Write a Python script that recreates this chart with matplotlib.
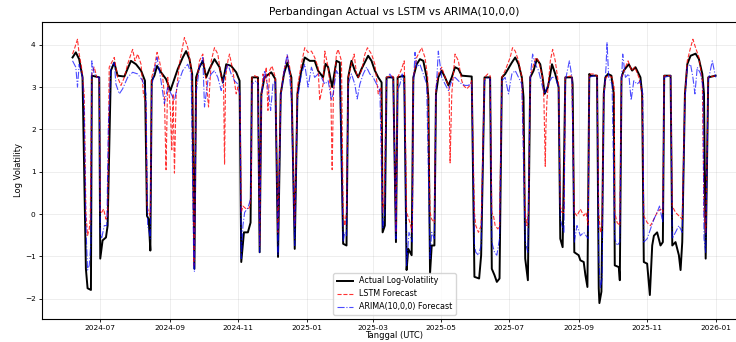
import numpy as np
import pandas as pd
import matplotlib
matplotlib.use("Agg")
import matplotlib.pyplot as plt
import matplotlib.dates as mdates

# hari sejak 2024-07-01 dan nilai log-volatility
tanggal_awal = pd.Timestamp("2024-07-01")

actual_hari = [-24.7, -21.8, -18.8, -15.8, -12.8, -11.3, -8.3, -7.5, -0.9, 0.0, 2.1, 5.1, 6.6, 9.5, 12.5, 15.5,
               21.5, 24.4, 27.4, 31.9, 36.4, 39.9, 41.7, 43.2, 44.7, 45.9, 48.3, 50.7, 54.2, 58.7, 62.6, 65.6,
               69.2, 73.6, 76.6, 79.6, 82.0, 84.0, 85.5, 88.5, 91.5, 94.5, 97.5, 101.9, 106.4, 109.4, 112.4,
               116.8, 121.3, 124.3, 125.8, 128.2, 131.7, 134.1, 135.3, 140.7, 142.2, 143.7, 146.6, 152.6, 156.2,
               158.6, 161.0, 163.9, 166.9, 170.5, 173.5, 175.9, 179.4, 182.4, 186.9, 191.3, 194.3, 198.8, 201.0,
               203.3, 206.9, 210.7, 213.7, 216.7, 219.7, 221.2, 224.1, 227.1, 230.1, 233.1, 239.0, 242.0, 245.0,
               248.0, 251.0, 251.9, 253.9, 255.4, 261.4, 263.8, 265.3, 271.2, 273.3, 274.8, 277.8, 279.3, 282.3,
               285.2, 288.2, 291.2, 292.7, 294.2, 295.7, 298.1, 299.5, 301.6, 304.6, 307.6, 310.6, 313.6, 316.5,
               319.5, 322.5, 331.4, 333.8, 338.0, 339.8, 342.8, 347.8, 349.3, 351.7, 353.8, 356.2, 358.3, 361.2,
               367.2, 370.2, 373.2, 376.1, 377.6, 379.1, 381.5, 383.6, 386.6, 389.5, 392.5, 394.6, 396.4, 399.4,
               403.0, 405.9, 408.9, 410.4, 412.5, 414.9, 420.8, 421.4, 422.9, 426.8, 428.3, 431.3, 432.8, 434.6,
               436.3, 437.2, 443.2, 444.7, 445.3, 447.1, 449.2, 450.6, 453.0, 456.0, 458.1, 459.0, 462.6, 463.5,
               465.0, 467.0, 471.5, 474.5, 477.5, 481.9, 483.4, 484.9, 487.9, 490.3, 492.4, 493.9, 496.8, 499.8,
               501.9, 503.1, 508.8, 510.3, 513.2, 516.2, 517.7, 519.2, 521.6, 523.7, 526.6, 531.1, 534.1, 537.1,
               538.6, 540.1, 542.4, 549.0]
actual_nilai = [3.70, 3.82, 3.66, 3.23, -1.29, -1.75, -1.79, 3.27, 3.23, -1.05, -0.62, -0.55, -0.27, 3.39, 3.58, 3.27,
                3.25, 3.43, 3.62, 3.54, 3.39, 3.15, -0.04, -0.12, -0.86, 3.15, 3.27, 3.50, 3.35, 3.19, 2.92, 3.15,
                3.43, 3.70, 3.85, 3.66, 3.31, -1.29, 3.23, 3.47, 3.62, 3.23, 3.43, 3.66, 3.47, 3.11, 3.54,
                3.50, 3.35, 3.15, -1.13, -0.43, -0.43, -0.20, 3.23, 3.23, -0.90, 2.84, 3.23, 3.35, 3.19,
                -1.01, 2.84, 3.31, 3.58, 3.23, -0.82, 2.84, 3.39, 3.70, 3.62, 3.62, 3.39, 3.23, 3.55,
                3.47, 3.00, 3.62, 3.58, -0.70, -0.74, 3.23, 3.62, 3.39, 3.23, 3.43, 3.74, 3.62, 3.39,
                3.23, 3.11, -0.43, -0.27, 3.23, 3.23, -0.66, 3.23, 3.27, -1.32, -0.82, -0.97, 3.23, 3.54,
                3.66, 3.62, 3.23, 2.76, -1.40, -0.74, -0.74, 2.84, 3.23, 3.39, 3.23, 3.04, 3.23, 3.47,
                3.43, 3.27, 3.25, -1.48, -1.52, -0.97, 3.23, 3.23, -1.29, -1.44, -1.60, -1.52, 3.23, 3.31,
                3.58, 3.70, 3.54, 3.23, 2.76, -1.05, -1.56, 3.23, 3.39, 3.66, 3.54, 3.23, 2.84, 3.00,
                3.54, 3.31, 3.00, -0.58, -0.78, 3.23, 3.23, 3.07, -0.90, -0.97, -1.09, -1.13, -1.44, -1.72,
                3.31, 3.27, 3.27, -1.75, -2.10, -1.83, 2.84, 3.23, 3.31, 3.27, 2.84, -1.21, -1.25, -1.56,
                3.23, 3.39, 3.54, 3.39, 3.47, 3.23, 2.84, -1.13, -1.17, -1.91, -0.74, -0.51, -0.43, -0.74,
                -0.66, 3.27, 3.27, -0.74, -0.66, -0.97, -1.32, -0.66, 2.84, 3.54, 3.74, 3.79, 3.66, 3.31,
                2.84, -1.05, 3.23, 3.27]

lstm_hari = [-24.7, -22.7, -20.3, -18.8, -16.7, -14.3, -12.8, -11.9, -11.3, -9.8, -8.9, -7.5, -5.4, -3.0, -0.9, 0.0,
             1.2, 3.0, 5.1, 6.6, 8.0, 12.5, 15.5, 18.5, 21.5, 24.4, 27.4, 28.9, 31.0, 33.4, 36.4, 38.5, 40.8,
             41.7, 43.2, 44.7, 45.9, 48.3, 50.7, 52.8, 55.7, 57.2, 58.7, 60.2, 62.6, 63.8, 65.0, 66.2, 67.7,
             70.6, 72.7, 75.1, 78.1, 81.1, 82.6, 83.5, 84.1, 85.5, 88.5, 91.5, 94.5, 96.6, 99.0, 101.9, 104.9,
             107.9, 110.0, 110.9, 111.8, 113.9, 115.3, 118.3, 121.3, 122.8, 124.6, 125.8, 127.3, 130.3, 133.2,
             134.7, 135.3, 137.7, 140.7, 142.2, 143.7, 145.2, 146.6, 148.1, 149.6, 151.1, 153.2, 156.2, 158.6,
             161.0, 163.9, 166.9, 169.0, 170.5, 173.5, 175.9, 179.4, 182.4, 185.4, 188.4, 191.3, 194.3, 195.8,
             198.8, 200.3, 203.3, 205.7, 206.9, 208.0, 210.7, 212.2, 215.2, 216.7, 218.2, 219.7, 221.2, 224.1,
             226.5, 228.6, 230.1, 233.1, 236.1, 238.4, 242.0, 245.0, 248.0, 250.4, 251.9, 253.3, 255.4, 259.9,
             261.4, 263.8, 265.3, 268.3, 271.2, 273.3, 276.3, 278.4, 279.3, 282.3, 286.7, 289.7, 292.1, 294.2,
             295.7, 298.1, 299.5, 301.6, 304.6, 307.6, 311.2, 312.1, 313.6, 316.5, 319.5, 321.0, 322.5, 324.0,
             327.0, 329.9, 331.4, 333.8, 335.0, 337.4, 339.8, 342.8, 345.7, 347.8, 349.3, 350.8, 352.3, 354.7,
             356.2, 358.3, 361.2, 365.7, 367.8, 370.2, 373.2, 376.1, 379.1, 380.6, 382.1, 383.6, 386.6, 388.7,
             391.0, 394.6, 395.8, 396.4, 397.0, 397.6, 398.5, 401.5, 403.6, 405.9, 408.9, 410.4, 411.9, 413.7,
             414.9, 420.8, 422.9, 425.3, 428.3, 431.3, 433.4, 435.3, 436.3, 440.2, 443.2, 444.7, 446.2, 447.7,
             449.2, 451.2, 453.6, 456.6, 458.4, 459.0, 461.1, 463.5, 465.0, 468.5, 470.9, 473.9, 476.9, 480.5,
             483.4, 484.9, 487.9, 490.9, 493.9, 496.8, 499.8, 501.9, 503.1, 508.8, 510.3, 513.2, 516.2, 519.2,
             521.6, 523.7, 526.6, 528.7, 531.1, 534.1, 537.1, 538.6, 540.1, 542.4, 549.0]
lstm_nilai = [3.78, 3.93, 4.13, 3.78, 3.47, 2.84, 0.04, -0.27, -0.50, -0.35, -0.10, 3.31, 3.47, 3.23, 3.23, 0.04,
              0.04, 0.12, -0.12, -0.04, 3.47, 3.70, 3.23, 3.04, 3.23, 3.54, 3.78, 3.89, 3.62, 3.78, 3.54, 2.84, 2.61,
              0.19, 0.04, -0.04, 3.23, 3.47, 3.82, 3.62, 3.23, 2.84, 1.05, 3.23, 2.45, 1.52, 2.84, 0.97, 2.84,
              3.54, 3.85, 4.17, 3.93, 3.47, 2.84, -1.21, -0.90, 3.00, 3.62, 3.78, 3.15, 2.53, 3.62, 3.93, 3.78,
              3.23, 3.07, 1.17, 3.23, 3.62, 3.78, 3.39, 2.84, 3.00, 2.84, 0.04, 0.19, 0.12, 0.15,
              0.50, 3.23, 3.27, 3.23, -0.74, 2.69, 3.31, 3.15, 3.47, 2.45, 3.39, 3.50, 3.23, -0.43,
              2.84, 3.39, 3.74, 3.47, 3.07, -0.27, 3.00, 3.54, 3.93, 3.82, 3.85, 3.70, 3.47, 2.69,
              3.07, 3.85, 3.47, 2.84, 1.05, 2.84, 3.78, 3.89, 3.62, 0.04, -0.27, 0.04, 3.23, 3.54,
              3.78, 3.31, 3.23, 3.39, 3.78, 3.93, 3.78, 3.54, 2.84, 3.00, 0.04, 0.35, 3.23, 3.27,
              3.23, -0.43, 3.23, 3.39, 3.62, 0.04, -0.20, -0.43, 3.23, 3.70, 3.93, 3.70, 3.23, 0.04,
              -0.12, -0.20, 3.00, 3.31, 3.47, 3.23, 3.00, 1.21, 2.84, 3.78, 3.62, 3.39, 3.15, 3.04,
              2.96, 3.04, 3.15, 0.04, -0.27, -0.43, -0.27, 3.23, 3.31, 3.27, 0.04, -0.04, -0.27, -0.35,
              -0.27, 3.23, 3.39, 3.70, 3.93, 3.85, 3.62, 3.23, 0.04, -0.27, 0.04, 3.23, 3.54, 3.70,
              3.62, 3.23, 2.69, 1.91, 1.13, 2.06, 2.69, 3.62, 3.89, 3.62, 3.07, 0.19, 0.04, 0.04,
              3.23, 3.27, 0.04, -0.04, 0.12, -0.04, 0.04, -0.27, 3.31, 3.31, 3.27, 0.04, -0.43, -0.27,
              2.84, 3.23, 3.27, 3.23, 3.00, 0.04, -0.20, -0.27, 3.23, 3.47, 3.62, 3.39, 3.47, 3.23,
              2.84, -0.04, -0.20, -0.27, -0.12, 0.04, 0.12, 0.04, 3.27, 3.27, 0.19, 0.04, -0.04, -0.12,
              2.84, 3.62, 3.93, 4.13, 3.93, 3.70, 3.15, 0.04, -0.43, 3.23, 3.27]

arima_hari = [-24.7, -21.8, -20.3, -18.8, -15.8, -14.3, -12.8, -11.3, -9.8, -8.3, -7.5, -5.4, -2.4, -0.9, 0.0, 1.2,
              3.6, 5.9, 7.2, 9.5, 12.5, 14.0, 17.0, 20.0, 24.4, 28.9, 33.4, 37.9, 40.8, 42.3, 43.8, 44.7, 45.9,
              48.3, 50.7, 54.2, 57.2, 60.2, 63.2, 66.2, 69.2, 73.6, 78.1, 81.1, 83.5, 84.1, 85.5, 88.5, 91.5,
              93.0, 96.0, 99.0, 101.9, 104.9, 107.9, 110.9, 113.9, 116.8, 119.8, 122.8, 124.6, 125.8, 127.3,
              128.8, 131.7, 134.1, 135.3, 139.2, 140.7, 142.2, 143.7, 146.6, 149.6, 152.0, 154.1, 156.2, 158.6,
              161.0, 164.5, 166.9, 169.0, 170.5, 173.5, 175.9, 179.4, 182.4, 185.4, 188.4, 191.3, 194.3, 197.3,
              200.3, 203.3, 206.3, 207.7, 210.7, 213.7, 216.7, 218.2, 219.7, 221.2, 224.1, 227.1, 229.2, 231.6,
              234.6, 237.6, 240.5, 243.5, 246.5, 249.5, 251.9, 253.9, 255.4, 258.4, 261.4, 263.8, 265.3, 267.4,
              269.4, 271.2, 273.3, 275.4, 278.4, 279.3, 280.8, 282.3, 285.2, 288.2, 291.2, 294.2, 295.7, 298.1,
              299.5, 301.6, 304.6, 307.6, 310.6, 313.6, 316.5, 319.5, 322.5, 325.5, 328.4, 331.4, 333.8, 335.0,
              337.4, 339.8, 342.8, 345.7, 347.8, 349.3, 351.7, 353.8, 356.2, 358.3, 361.2, 364.2, 367.2, 370.2,
              373.2, 376.1, 379.1, 381.5, 383.6, 385.7, 388.1, 391.0, 394.6, 396.4, 399.4, 403.0, 405.9, 408.9,
              410.4, 411.9, 413.7, 414.9, 418.5, 420.8, 422.9, 425.3, 428.3, 431.3, 433.4, 435.3, 436.3, 440.2,
              443.2, 444.7, 446.2, 447.7, 449.2, 451.2, 452.1, 453.6, 456.6, 459.0, 461.1, 463.5, 465.0, 466.1,
              468.5, 471.5, 473.6, 476.0, 479.0, 481.9, 484.0, 484.9, 487.9, 490.9, 493.9, 496.8, 498.9, 501.9,
              503.1, 508.8, 510.3, 513.2, 516.2, 519.2, 521.6, 523.7, 526.6, 528.7, 530.5, 532.6, 535.6, 537.7,
              538.6, 540.1, 542.4, 546.0, 549.0]
arima_nilai = [3.62, 3.47, 3.00, 3.54, 3.23, 2.45, -0.27, -1.32, -1.21, -0.66, 3.62, 3.31, 3.23, 3.23, -0.43, -0.58,
               -0.27, -0.27, 2.06, 3.47, 3.58, 3.07, 2.84, 2.96, 3.23, 3.35, 3.31, 3.15, 2.84, -0.27, -0.43, -0.58, 3.00,
               3.39, 3.70, 3.15, 2.61, 3.00, 2.84, 2.69, 3.07, 3.39, 3.54, 3.31, -1.29, -1.36, 2.84, 3.47, 3.70,
               2.53, 3.15, 3.31, 3.39, 3.23, 2.92, 3.31, 3.54, 3.31, 3.15, 3.07, 2.84, -1.05, -0.27,
               0.04, 0.15, 0.35, 3.07, 3.15, 3.07, -0.90, 2.76, 3.39, 3.00, 2.45, 3.07, 3.15, -0.97,
               2.76, 3.47, 3.78, 3.23, 2.76, -0.74, 2.69, 3.31, 3.54, 3.00, 3.47, 3.23, 3.31, 3.23,
               3.07, 3.15, 2.69, 2.84, 3.39, 3.23, -0.66, -0.43, -0.51, 3.07, 3.31, 3.07, 2.72, 3.07,
               3.31, 3.47, 3.31, 3.23, 3.07, 2.92, -0.35, 0.04, 3.15, 3.31, 3.15, -0.58, 2.92, 3.07,
               3.31, 3.00, -1.21, -0.43, -0.66, 3.00, 3.82, 3.47, 3.54, 3.31, 3.07, -1.05, -0.43, -0.58,
               2.84, 3.85, 3.23, 3.07, 2.92, 3.15, 3.23, 3.15, 3.07, 3.04, 3.04, 3.11, -0.74, -0.90,
               -0.97, -0.74, 3.15, 3.23, 3.19, -0.66, -0.90, -0.97, -0.58, 3.15, 3.23, 2.84, 3.31, 3.39,
               3.23, 3.07, -0.66, -0.90, 3.23, 3.78, 3.54, 3.39, 3.00, 2.84, 3.07, 3.23, 3.23, 3.00,
               -0.12, -0.27, -0.43, 3.15, 3.62, 3.23, -0.66, -0.27, -0.51, -0.43, -0.51, -0.58, 3.23, 3.27,
               3.23, -1.05, -1.75, -1.52, 2.69, 3.47, 4.05, 3.23, 3.07, -0.58, -0.74, -0.66, 3.15, 3.78,
               3.23, 3.31, 2.69, 3.15, 3.07, 3.15, 2.84, -0.66, -0.58, -0.35, -0.12, 0.04, 0.19, -0.20,
               3.23, 3.27, -0.58, -0.43, -0.27, -0.43, 2.69, 3.47, 3.54, 3.23, 2.84, 3.47, 3.31, 3.00,
               -0.58, -0.90, 3.15, 3.62, 3.23]


def ke_tanggal(hari):
    return tanggal_awal + pd.to_timedelta(np.array(hari), unit="D")


fig = plt.figure(figsize=(7.36, 3.42), dpi=100)
ax = fig.add_axes([0.057, 0.068, 0.958, 0.868])

ax.plot(ke_tanggal(actual_hari), actual_nilai, color="black", linewidth=1.4, label="Actual Log-Volatility")
ax.plot(ke_tanggal(lstm_hari), lstm_nilai, color="red", linestyle="--", linewidth=0.8, alpha=0.8,
        label="LSTM Forecast")
ax.plot(ke_tanggal(arima_hari), arima_nilai, color="blue", linestyle="-.", linewidth=0.8, alpha=0.7,
        label="ARIMA(10,0,0) Forecast")

ax.set_ylim(-2.47, 4.54)
ax.set_xlim(pd.Timestamp("2024-05-10"), pd.Timestamp("2026-01-29"))
ax.xaxis.set_major_locator(mdates.MonthLocator(bymonth=[1, 3, 5, 7, 9, 11]))
ax.xaxis.set_major_formatter(mdates.DateFormatter("%Y-%m"))
ax.tick_params(labelsize=5.3, length=2.5, width=0.6, pad=2)

ax.set_title("Perbandingan Actual vs LSTM vs ARIMA(10,0,0)", fontsize=7.6, pad=5)
ax.set_xlabel("Tanggal (UTC)", fontsize=6, labelpad=0)
ax.set_ylabel("Log Volatility", fontsize=6, labelpad=1)
ax.grid(True, alpha=0.3, linewidth=0.5)
ax.legend(loc="lower center", fontsize=5.8)

fig.savefig("out.png", dpi=100)
